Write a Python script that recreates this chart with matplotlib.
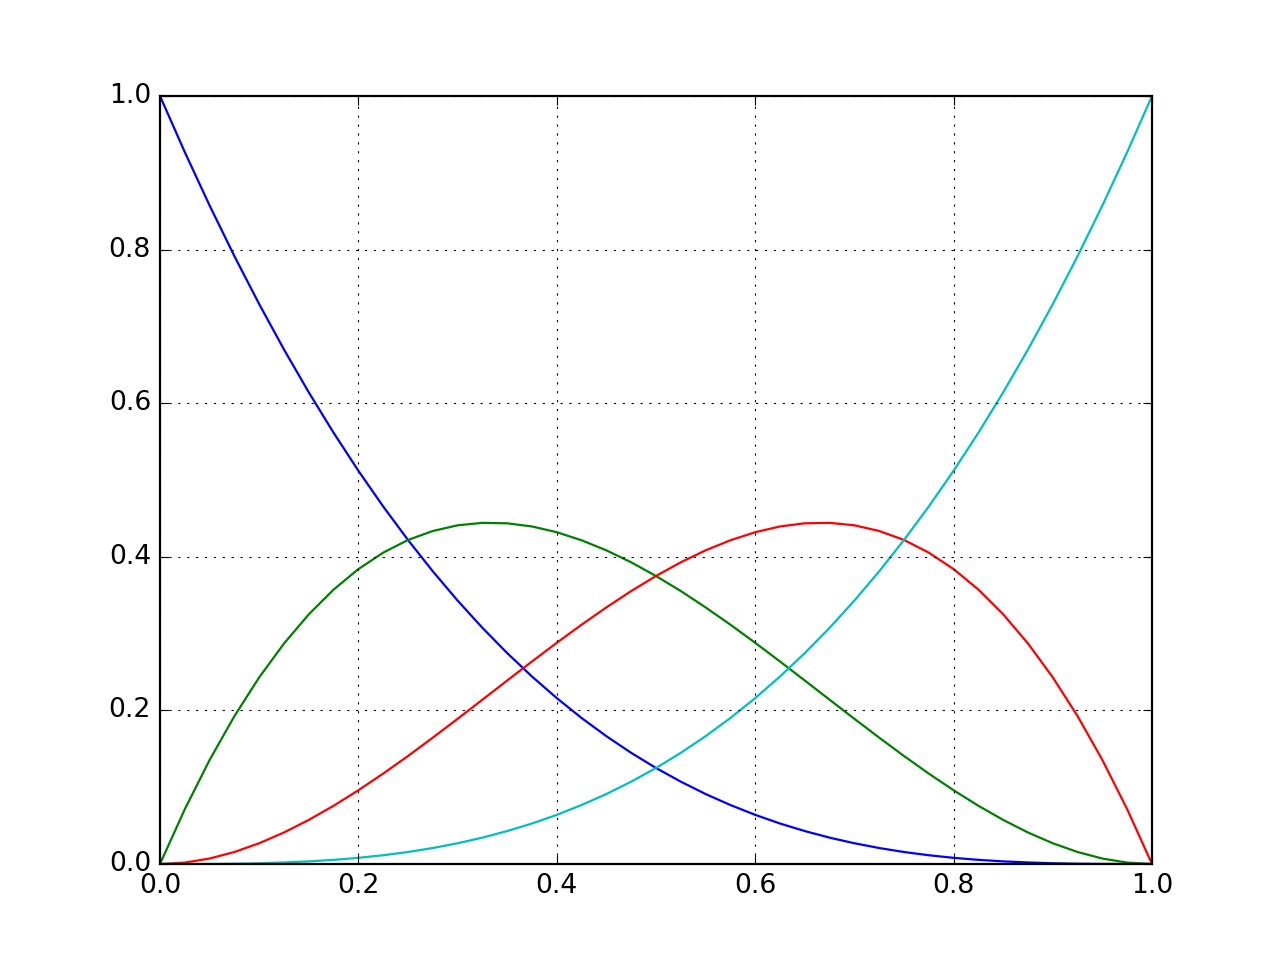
"""
Cubic basis curves, classic look
"""

# Import
import matplotlib
matplotlib.use('Agg')
import matplotlib.pyplot as plt

# Values, every 0.025 along x
x = [0.000, 0.025, 0.050, 0.075, 0.100, 0.125, 0.150, 0.175, 0.200, 0.225,
     0.250, 0.275, 0.300, 0.325, 0.350, 0.375, 0.400, 0.425, 0.450, 0.475,
     0.500, 0.525, 0.550, 0.575, 0.600, 0.625, 0.650, 0.675, 0.700, 0.725,
     0.750, 0.775, 0.800, 0.825, 0.850, 0.875, 0.900, 0.925, 0.950, 0.975,
     1.000]

blue = [1.0000, 0.9269, 0.8574, 0.7915, 0.7290, 0.6699, 0.6141, 0.5615, 0.5120, 0.4655,
        0.4219, 0.3811, 0.3430, 0.3075, 0.2746, 0.2441, 0.2160, 0.1901, 0.1664, 0.1447,
        0.1250, 0.1072, 0.0911, 0.0768, 0.0640, 0.0527, 0.0429, 0.0343, 0.0270, 0.0208,
        0.0156, 0.0114, 0.0080, 0.0054, 0.0034, 0.0020, 0.0010, 0.0004, 0.0001, 0.0000,
        0.0000]
green = [0.0000, 0.0713, 0.1354, 0.1925, 0.2430, 0.2871, 0.3251, 0.3573, 0.3840, 0.4054,
         0.4219, 0.4336, 0.4410, 0.4442, 0.4436, 0.4395, 0.4320, 0.4215, 0.4084, 0.3928,
         0.3750, 0.3554, 0.3341, 0.3116, 0.2880, 0.2637, 0.2389, 0.2139, 0.1890, 0.1645,
         0.1406, 0.1177, 0.0960, 0.0758, 0.0574, 0.0410, 0.0270, 0.0156, 0.0071, 0.0018,
         0.0000]
red = [0.0000, 0.0018, 0.0071, 0.0156, 0.0270, 0.0410, 0.0574, 0.0758, 0.0960, 0.1177,
       0.1406, 0.1645, 0.1890, 0.2139, 0.2389, 0.2637, 0.2880, 0.3116, 0.3341, 0.3554,
       0.3750, 0.3928, 0.4084, 0.4215, 0.4320, 0.4395, 0.4436, 0.4442, 0.4410, 0.4336,
       0.4219, 0.4054, 0.3840, 0.3573, 0.3251, 0.2871, 0.2430, 0.1925, 0.1354, 0.0713,
       0.0000]
cyan = [0.0000, 0.0000, 0.0001, 0.0004, 0.0010, 0.0020, 0.0034, 0.0054, 0.0080, 0.0114,
        0.0156, 0.0208, 0.0270, 0.0343, 0.0429, 0.0527, 0.0640, 0.0768, 0.0911, 0.1072,
        0.1250, 0.1447, 0.1664, 0.1901, 0.2160, 0.2441, 0.2746, 0.3075, 0.3430, 0.3811,
        0.4219, 0.4655, 0.5120, 0.5615, 0.6141, 0.6699, 0.7290, 0.7915, 0.8574, 0.9269,
        1.0000]

# Old default look
plt.style.use('classic')

fig, ax = plt.subplots(figsize=(8, 6))
fig.subplots_adjust(left=0.125, right=0.9, bottom=0.1, top=0.9)

ax.plot(x, blue, color='b')
ax.plot(x, green, color='g')
ax.plot(x, red, color='r')
ax.plot(x, cyan, color='c')

ax.set_xlim(0, 1)
ax.set_ylim(0, 1)
ax.grid(True)

fig.savefig('out.png', dpi=160)
